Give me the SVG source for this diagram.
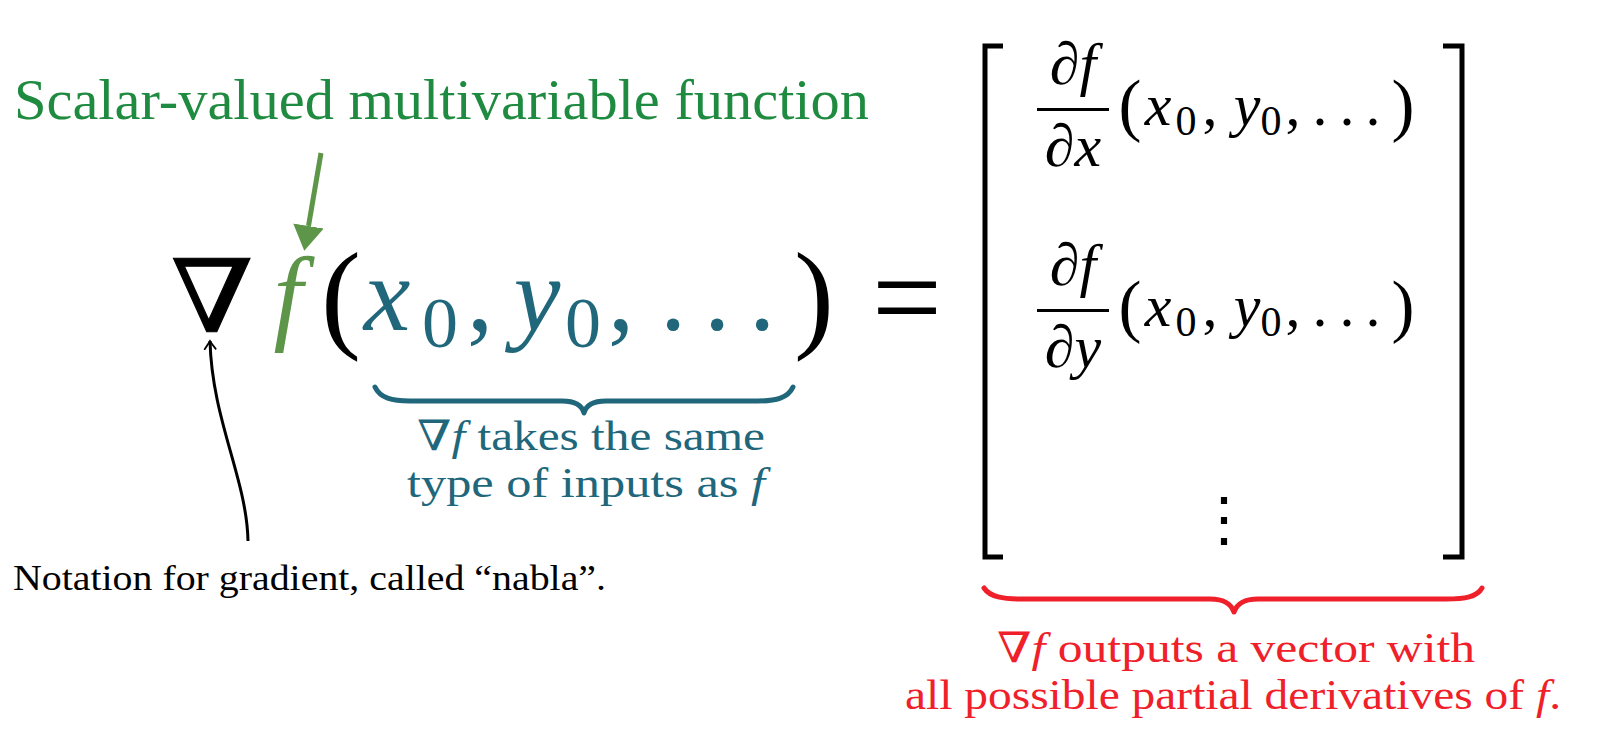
<svg xmlns="http://www.w3.org/2000/svg" width="1598" height="740" viewBox="0 0 1598 740">
<style>
.c { text-anchor: middle; }
.teal { fill: #21677B; }
.red { fill: #F0202A; }
.grn { fill: #5D9649; }
.blk { fill: #000; }
.brace { fill: none; stroke-width: 5; stroke-linecap: round; stroke-linejoin: round; }
.bracket { fill: none; stroke: #000; stroke-width: 5; }
.bar { stroke: #000; stroke-width: 3; }
</style>
<defs>
<marker id="gHead" markerUnits="userSpaceOnUse" viewBox="0 -16 26 32" refX="0" refY="0" markerWidth="26" markerHeight="32" orient="auto">
<path d="M0,-15.5 L25,0 L0,15.5 z" fill="#5D9649"/>
</marker>
<marker id="kHead" markerUnits="userSpaceOnUse" viewBox="-10 -7 12 14" refX="0" refY="0" markerWidth="12" markerHeight="14" orient="auto">
<path d="M-8,-5.5 Q-2.5,-1.5 0,0 Q-2.5,1.5 -8,5.5" fill="none" stroke="#000" stroke-width="1.8" stroke-linecap="round"/>
</marker>
</defs>
<rect width="1598" height="740" fill="#fff"/>

<g id="title">
<text x="14" y="119" font-family="Liberation Serif" font-size="56" fill="#1F8B40" textLength="855" lengthAdjust="spacingAndGlyphs">Scalar-valued multivariable function</text>
</g>

<g id="formula" font-family="Liberation Serif">
<text transform="translate(212,332) scale(1.18,1)" x="0" y="0" class="c blk" font-family="DejaVu Serif" font-size="101" stroke="#000" stroke-width="1">∇</text>
<text x="288" y="330" class="c grn" font-family="Liberation Serif" font-style="italic" font-size="105">f</text>
<text x="341" y="336" class="c blk" font-family="Liberation Serif" font-size="120">(</text>
<text x="387" y="330" class="c teal" font-family="Liberation Serif" font-style="italic" font-size="105">x</text>
<text x="440" y="347" class="c teal" font-family="Liberation Serif" font-size="72">0</text>
<text x="480" y="330" class="c teal" font-family="Liberation Serif" font-size="105">,</text>
<text x="537" y="330" class="c teal" font-family="Liberation Serif" font-style="italic" font-size="105">y</text>
<text x="583" y="347" class="c teal" font-family="Liberation Serif" font-size="72">0</text>
<text x="621" y="330" class="c teal" font-family="Liberation Serif" font-size="105">,</text>
<text x="673" y="330" class="c teal" font-family="Liberation Serif" font-size="105">.</text>
<text x="717" y="330" class="c teal" font-family="Liberation Serif" font-size="105">.</text>
<text x="762" y="330" class="c teal" font-family="Liberation Serif" font-size="105">.</text>
<text x="814" y="336" class="c blk" font-family="Liberation Serif" font-size="120">)</text>
<text x="907" y="341" class="c blk" font-family="Liberation Serif" font-size="130" textLength="70" lengthAdjust="spacingAndGlyphs">=</text>
</g>

<g id="matrix">
<path class="bracket" d="M1003,46 H985 V557 H1003"/>
<path class="bracket" d="M1443,46 H1462 V557 H1443"/>
<g id="row1">
<text x="1073" y="84" class="c" font-family="Liberation Serif" font-style="italic" font-size="60">∂f</text>
<line class="bar" x1="1037" y1="109.5" x2="1109" y2="109.5"/>
<text x="1073" y="166" class="c" font-family="Liberation Serif" font-style="italic" font-size="60">∂x</text>
<text x="1130" y="128" class="c" font-family="Liberation Serif" font-size="69">(</text>
<text x="1158" y="125" class="c" font-family="Liberation Serif" font-style="italic" font-size="60">x</text>
<text x="1186" y="135" class="c" font-family="Liberation Serif" font-size="42">0</text>
<text x="1210" y="125" class="c" font-family="Liberation Serif" font-size="60">,</text>
<text x="1247" y="125" class="c" font-family="Liberation Serif" font-style="italic" font-size="60">y</text>
<text x="1271" y="135" class="c" font-family="Liberation Serif" font-size="42">0</text>
<text x="1293" y="125" class="c" font-family="Liberation Serif" font-size="60">,</text>
<text x="1320" y="125" class="c" font-family="Liberation Serif" font-size="60">.</text>
<text x="1347" y="125" class="c" font-family="Liberation Serif" font-size="60">.</text>
<text x="1373" y="125" class="c" font-family="Liberation Serif" font-size="60">.</text>
<text x="1403" y="128" class="c" font-family="Liberation Serif" font-size="69">)</text>
</g>
<g id="row2">
<text x="1073" y="285" class="c" font-family="Liberation Serif" font-style="italic" font-size="60">∂f</text>
<line class="bar" x1="1037" y1="310.5" x2="1109" y2="310.5"/>
<text x="1073" y="367" class="c" font-family="Liberation Serif" font-style="italic" font-size="60">∂y</text>
<text x="1130" y="329" class="c" font-family="Liberation Serif" font-size="69">(</text>
<text x="1158" y="326" class="c" font-family="Liberation Serif" font-style="italic" font-size="60">x</text>
<text x="1186" y="336" class="c" font-family="Liberation Serif" font-size="42">0</text>
<text x="1210" y="326" class="c" font-family="Liberation Serif" font-size="60">,</text>
<text x="1247" y="326" class="c" font-family="Liberation Serif" font-style="italic" font-size="60">y</text>
<text x="1271" y="336" class="c" font-family="Liberation Serif" font-size="42">0</text>
<text x="1293" y="326" class="c" font-family="Liberation Serif" font-size="60">,</text>
<text x="1320" y="326" class="c" font-family="Liberation Serif" font-size="60">.</text>
<text x="1347" y="326" class="c" font-family="Liberation Serif" font-size="60">.</text>
<text x="1373" y="326" class="c" font-family="Liberation Serif" font-size="60">.</text>
<text x="1403" y="329" class="c" font-family="Liberation Serif" font-size="69">)</text>
</g>
<g id="vdots">
<text x="1224" y="540" class="c" font-family="DejaVu Serif" font-size="60">⋮</text>
</g>
</g>

<g id="inputs-brace">
<path class="brace" stroke="#21677B" d="M375,387 C380,398 392,401 410,401 L562,401 C575,401 582,405 584,413 C586,405 593,401 606,401 L758,401 C776,401 788,398 793,387"/>
</g>
<g id="inputs-label">
<text x="417" y="450" font-family="Liberation Serif" font-size="42" class="teal" textLength="348" lengthAdjust="spacingAndGlyphs"><tspan font-family="DejaVu Serif">∇</tspan><tspan font-style="italic">f</tspan> takes the same</text>
<text x="407" y="497" font-family="Liberation Serif" font-size="42" class="teal" textLength="358" lengthAdjust="spacingAndGlyphs">type of inputs as <tspan font-style="italic">f</tspan></text>
</g>

<g id="output-brace">
<path class="brace" stroke="#F0202A" d="M984,588 C990,597 1003,599 1022,599 L1210,599 C1225,599 1231,604 1234,612 C1237,604 1243,599 1258,599 L1446,599 C1465,599 1477,597 1482,588"/>
</g>
<g id="output-label">
<text x="997" y="662" font-family="Liberation Serif" font-size="42" class="red" textLength="478" lengthAdjust="spacingAndGlyphs"><tspan font-family="DejaVu Serif">∇</tspan><tspan font-style="italic">f</tspan> outputs a vector with</text>
<text x="905" y="709" font-family="Liberation Serif" font-size="42" class="red" textLength="656" lengthAdjust="spacingAndGlyphs">all possible partial derivatives of <tspan font-style="italic">f</tspan>.</text>
</g>

<g id="notation-label">
<text x="13" y="590" font-family="Liberation Serif" font-size="35" textLength="593" lengthAdjust="spacingAndGlyphs">Notation for gradient, called “nabla”.</text>
</g>

<g id="connectors">
<path d="M321,153 L308.5,226" stroke="#5D9649" stroke-width="5" fill="none" marker-end="url(#gHead)"/>
<path d="M248,541 C247,480 212,420 210,341" stroke="#000" stroke-width="3" fill="none" marker-end="url(#kHead)"/>
</g>
</svg>
